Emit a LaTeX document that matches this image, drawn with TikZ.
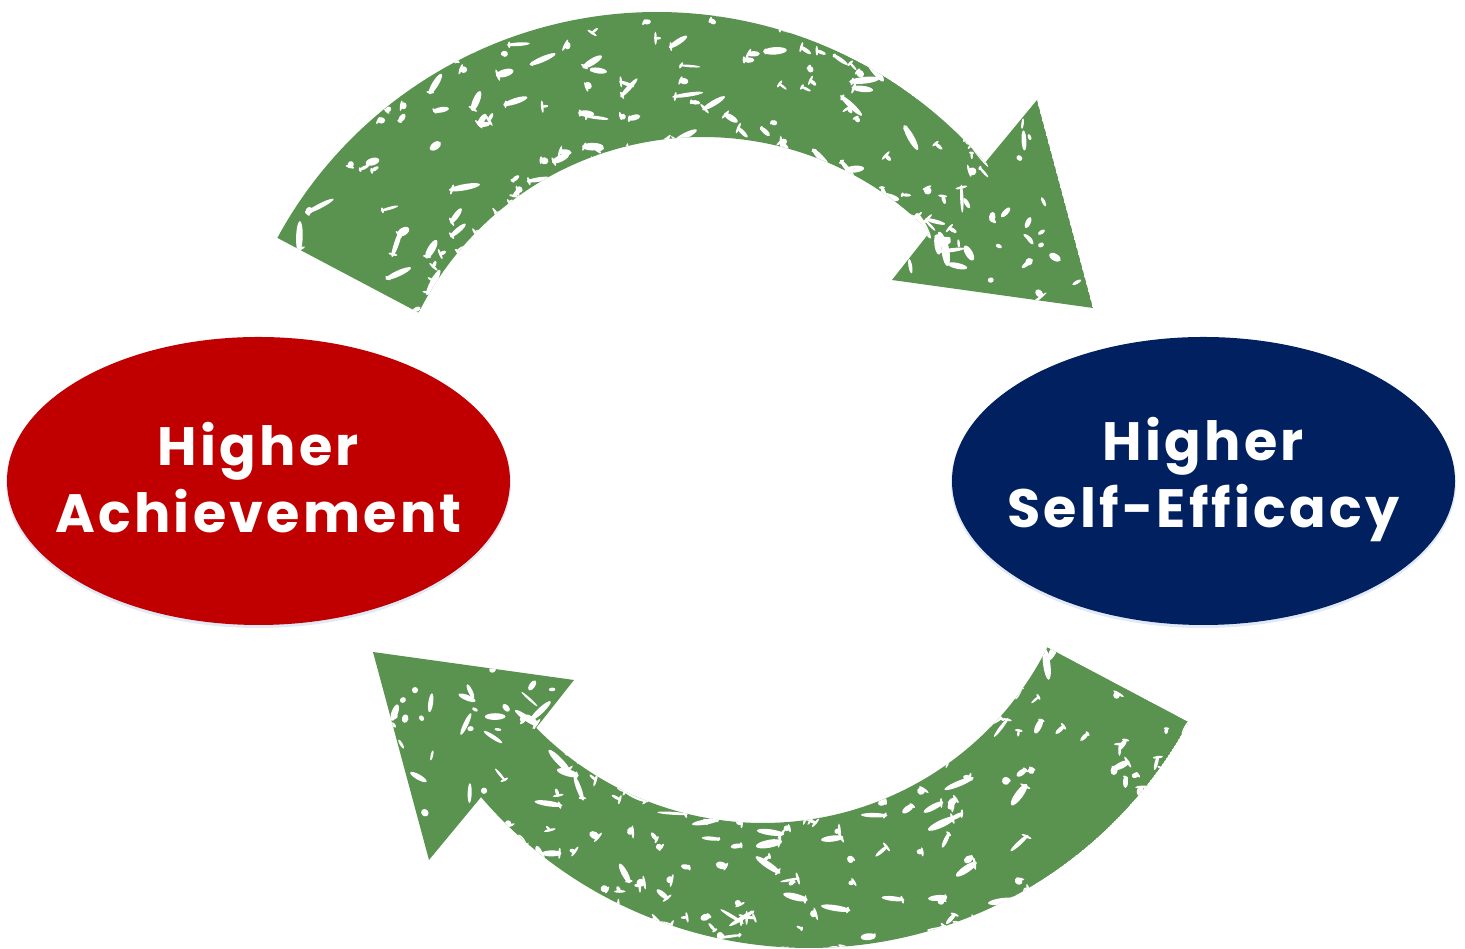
\documentclass[tikz,border=0pt]{standalone}
\usepackage{fontspec}
\newfontfamily\lblfont[LetterSpace=6]{Poppins}
\usetikzlibrary{shapes.geometric}
\definecolor{arrowgreen}{RGB}{90,146,80}
\definecolor{achred}{RGB}{192,0,0}
\definecolor{seblue}{RGB}{0,32,96}
\definecolor{halo}{RGB}{226,233,246}

% arrow outline (top arrow, y axis pointing up, 1 unit = 1 px)
\def\arrowpath{([shift={(151.5:432)}]657,505) arc[start angle=151.5, end angle=40.6, radius=432]
  -- (1037,849) -- (1093,641) -- (892,669)
  -- ([shift={(44.5:318)}]703,494) arc[start angle=44.5, end angle=153.4, radius=318] -- cycle}

\newcommand\arrowtexture[1]{%
  \pgfmathsetseed{#1}%
  \foreach \i in {1,...,140}{%
    \pgfmathsetmacro\t{40+114*rnd}%
    \pgfmathsetmacro\v{rnd}%
    \pgfmathsetmacro\u{(\v<0.5) ? 0.5*(2*\v)^2 : 1-0.5*(2-2*\v)^2}%
    \pgfmathsetmacro\u{-0.03+1.06*\u}%
    \pgfmathsetmacro\px{(1-\u)*(703+318*cos(\t))+\u*(657+432*cos(\t))}%
    \pgfmathsetmacro\py{(1-\u)*(494+318*sin(\t))+\u*(505+432*sin(\t))}%
    \pgfmathsetmacro\rr{rnd}%
    \pgfmathsetmacro\rx{3+13*\rr*\rr}%
    \pgfmathsetmacro\ry{1.2+2.8*rnd}%
    \pgfmathsetmacro\ang{\t+90+80*(rnd-0.5)}%
    \fill[speck, rotate around={\ang:(\px,\py)}] (\px,\py) ellipse[x radius=\rx, y radius=\ry];
    \pgfmathsetmacro\bx{\px+\rx*0.8*cos(\ang)}%
    \pgfmathsetmacro\by{\py+\rx*0.8*sin(\ang)}%
    \pgfmathsetmacro\bang{\ang+60*(rnd-0.5)+90}%
    \pgfmathsetmacro\brx{2+5*rnd}%
    \fill[speck, rotate around={\bang:(\bx,\by)}] (\bx,\by) ellipse[x radius=\brx, y radius=1.3];
  }%
  \foreach \i in {1,...,28}{%
    \pgfmathsetmacro\s{rnd}%
    \pgfmathsetmacro\w{rnd}%
    \pgfmathsetmacro\ss{(\s+\w>1) ? 1-\s : \s}%
    \pgfmathsetmacro\ww{(\s+\w>1) ? 1-\w : \w}%
    \pgfmathsetmacro\px{1037+56*\ss-145*\ww}%
    \pgfmathsetmacro\py{849-208*\ss-180*\ww}%
    \pgfmathsetmacro\rr{rnd}%
    \pgfmathsetmacro\rx{3+11*\rr*\rr}%
    \pgfmathsetmacro\ry{1.2+2.5*rnd}%
    \pgfmathsetmacro\ang{180*rnd}%
    \fill[speck, rotate around={\ang:(\px,\py)}] (\px,\py) ellipse[x radius=\rx, y radius=\ry];
  }%
}

\begin{document}
\begin{tikzpicture}[x=1pt,y=1pt,
  oval/.style={ellipse, minimum width=503pt, minimum height=288pt, inner sep=0pt, draw=none},
  haloshape/.style={ellipse, minimum width=505pt, minimum height=290pt, inner sep=0pt, fill=halo, draw=none},
  lbl/.style={text=white, align=center, inner sep=0pt, font={\lblfont\bfseries\fontsize{54}{67}\selectfont}},
  speck/.style={fill=white},
  greenarrow/.style={fill=arrowgreen}
]
\useasboundingbox (0,0) rectangle (1465,949);

% top arrow
\begin{scope}
  \clip \arrowpath;
  \fill[greenarrow] \arrowpath;
  \arrowtexture{11}
\end{scope}

% bottom arrow (point symmetric)
\begin{scope}[rotate around={180:(733,469)}]
  \clip \arrowpath;
  \fill[greenarrow] \arrowpath;
  \arrowtexture{29}
\end{scope}

% ellipses
\node[haloshape] (achhalo) at (258.5,466) {};
\node[oval, fill=achred] (ach) at (258.5,468) {};
\node[lbl] (achtext) at ([yshift=3pt]ach.center) {Higher\\Achievement};

\node[haloshape] (sehalo) at (1203.5,466) {};
\node[oval, fill=seblue] (se) at (1203.5,468) {};
\node[lbl] (setext) at ([yshift=1pt]se.center) {Higher\\Self-Efficacy};
\end{tikzpicture}
\end{document}
